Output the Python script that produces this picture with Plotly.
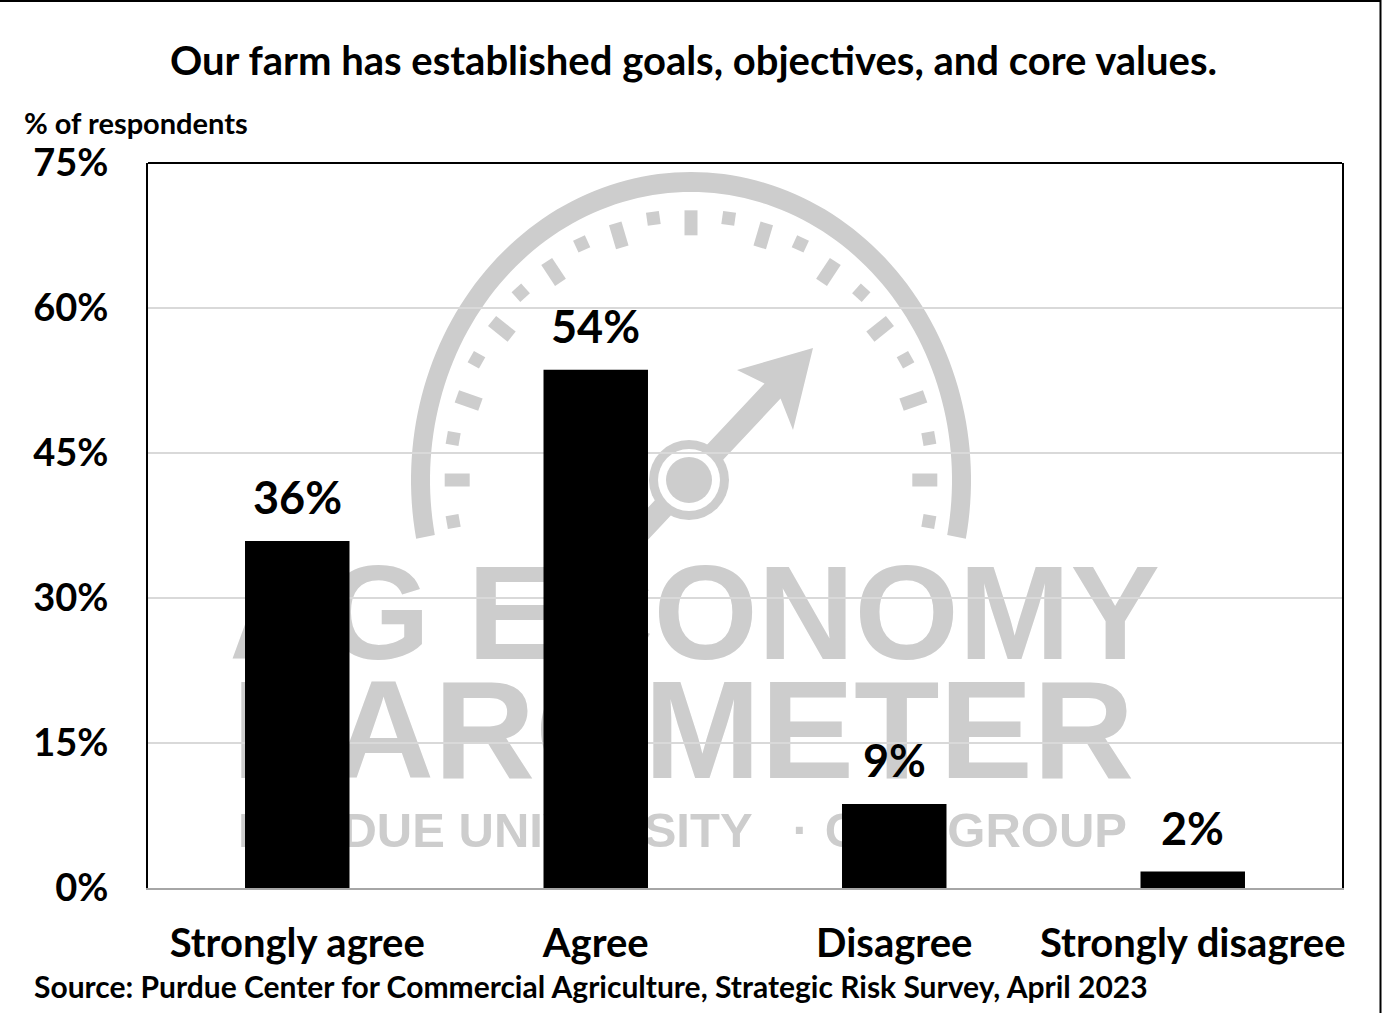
import math
import plotly.graph_objects as go

# ---- survey data -------------------------------------------------------
categories = ["Strongly agree", "Agree", "Disagree", "Strongly disagree"]
share_pct = [35.9, 53.6, 8.7, 1.7]
y_tick_vals = [0, 15, 30, 45, 60, 75]
y_tick_text = ["0%", "15%", "30%", "45%", "60%", "75%"]

title_text = "Our farm has established goals, objectives, and core values."
y_axis_caption = "% of respondents"
source_text = "Source: Purdue Center for Commercial Agriculture, Strategic Risk Survey, April 2023"

# ---- page geometry (pixels) ---------------------------------------------
W, H = 1386, 1013
ML, MR, MT, MB = 148, 44, 163, 125
PW, PH = W - ML - MR, H - MT - MB

FONT = "Lato, 'Open Sans', sans-serif"
LOGO_FONT = "'Liberation Sans', Arial, sans-serif"
LOGO_GREY = "#cdcdcd"


def px(x):
    """page pixel x -> paper x"""
    return (x - ML) / PW


def py(y):
    """page pixel y (top-down) -> paper y"""
    return (H - MB - y) / PH


def poly_path(points):
    return "M " + " L ".join(f"{px(x):.5f},{py(y):.5f}" for x, y in points) + " Z"


shapes = []

# ---- background logo: gauge ------------------------------------------------
gcx, gcy = 691, 480
rx_o, ry_o, rx_i, ry_i = 280, 308, 261, 288
a0, a1 = -11, 191
outer = [(gcx + rx_o * math.cos(math.radians(a)), gcy - ry_o * math.sin(math.radians(a)))
         for a in [a0 + (a1 - a0) * k / 120 for k in range(121)]]
inner = [(gcx + rx_i * math.cos(math.radians(a)), gcy - ry_i * math.sin(math.radians(a)))
         for a in [a1 - (a1 - a0) * k / 120 for k in range(121)]]
shapes.append(dict(type="path", path=poly_path(outer + inner), xref="paper", yref="paper",
                   fillcolor=LOGO_GREY, line=dict(width=0), layer="below"))

# dial ticks, alternating long / short every 9 degrees
for k in range(-1, 22):
    t = math.radians(k * 9)
    long_tick = (k % 2 == 0)
    rr = 0.835 if long_tick else 0.86
    cx = gcx + rr * rx_o * math.cos(t)
    cy = gcy - rr * ry_o * math.sin(t)
    dx, dy = rx_o * math.cos(t), -ry_o * math.sin(t)
    n = math.hypot(dx, dy)
    dx, dy = dx / n, dy / n
    ex, ey = -dy, dx
    hl = 12.5 if long_tick else 6.5
    hw = 6.5
    pts = [(cx + dx * hl + ex * hw, cy + dy * hl + ey * hw),
           (cx + dx * hl - ex * hw, cy + dy * hl - ey * hw),
           (cx - dx * hl - ex * hw, cy - dy * hl - ey * hw),
           (cx - dx * hl + ex * hw, cy - dy * hl + ey * hw)]
    shapes.append(dict(type="path", path=poly_path(pts), xref="paper", yref="paper",
                       fillcolor=LOGO_GREY, line=dict(width=0), layer="below"))

# needle
pvx, pvy = 689, 480
tip = (813, 348)
ux, uy = tip[0] - pvx, tip[1] - pvy
ul = math.hypot(ux, uy)
ux, uy = ux / ul, uy / ul
nx, ny = -uy, ux
hw = 11


def along(s, o):
    return (pvx + ux * s + nx * o, pvy + uy * s + ny * o)


needle = [tip, (793, 430), along(122, hw), along(-75, hw), along(-75, -hw), along(122, -hw), (737, 370)]
shapes.append(dict(type="path", path=poly_path(needle), xref="paper", yref="paper",
                   fillcolor=LOGO_GREY, line=dict(width=0), layer="below"))

# pivot: grey ring, white gap, grey hub
for r, col in [(40, LOGO_GREY), (31, "white"), (23, LOGO_GREY)]:
    shapes.append(dict(type="circle", xref="paper", yref="paper",
                       x0=px(pvx - r), x1=px(pvx + r), y0=py(pvy + r), y1=py(pvy - r),
                       fillcolor=col, line=dict(width=0), layer="below"))

# ---- background logo: lettering ------------------------------------------------
logo_rows = [
    # (text, left, right, cap top, cap bottom, font size, alignment)
    ("AG ECONOMY", 235, 1154, 560, 665, 134, "middle center"),
    ("BAROMETER", 235, 1131, 677, 783, 140, "middle center"),
    ("PURDUE UNIVERSITY   ·", 235, 820, 812, 847, 49, "middle left"),
    ("CME GROUP", 830, 1130, 812, 847, 49, "middle right"),
]
for text, left, right, top, bot, size, pos in logo_rows:
    lift = 0.095 * size
    shapes.append(dict(type="rect", xref="paper", yref="paper",
                       x0=px(left), x1=px(right), y0=py(bot - lift), y1=py(top - lift),
                       line=dict(width=0), fillcolor="rgba(0,0,0,0)", layer="below",
                       label=dict(text=f"<b>{text}</b>", textposition=pos, padding=0,
                                  font=dict(family=LOGO_FONT, size=size, color=LOGO_GREY))))

# ---- frame lines ---------------------------------------------------------
# plot-area top edge
shapes.append(dict(type="line", xref="paper", yref="paper", x0=0, x1=1, y0=1, y1=1,
                   line=dict(color="black", width=2), layer="above"))
# outer page border (top and right)
shapes.append(dict(type="line", xref="paper", yref="paper", x0=px(0), x1=px(1381),
                   y0=py(1), y1=py(1), line=dict(color="black", width=2), layer="above"))
shapes.append(dict(type="line", xref="paper", yref="paper", x0=px(1380.5), x1=px(1380.5),
                   y0=py(0), y1=py(H), line=dict(color="black", width=2), layer="above"))

# ---- bars ----------------------------------------------------------------
fig = go.Figure(go.Bar(x=categories, y=share_pct, marker=dict(color="black", line=dict(width=0)),
                       hoverinfo="skip"))

annotations = []
for cat, v in zip(categories, share_pct):
    annotations.append(dict(x=cat, y=v, xref="x", yref="y", text=f"<b>{round(v)}%</b>",
                            showarrow=False, yanchor="bottom", yshift=15,
                            font=dict(family=FONT, size=45, color="black")))

annotations += [
    dict(x=px(693), y=py(60), xref="paper", yref="paper", text=f"<b>{title_text}</b>",
         showarrow=False, xanchor="center", yanchor="middle",
         font=dict(family=FONT, size=40, color="black")),
    dict(x=px(22), y=py(123), xref="paper", yref="paper", text=f"<b>{y_axis_caption}</b>",
         showarrow=False, xanchor="left", yanchor="middle",
         font=dict(family=FONT, size=29, color="black")),
    dict(x=px(32), y=py(986), xref="paper", yref="paper", text=f"<b>{source_text}</b>",
         showarrow=False, xanchor="left", yanchor="middle",
         font=dict(family=FONT, size=30, color="black")),
]

fig.update_layout(
    width=W, height=H,
    margin=dict(l=ML, r=MR, t=MT, b=MB),
    paper_bgcolor="white", plot_bgcolor="white",
    bargap=0.65,
    showlegend=False,
    shapes=shapes,
    annotations=annotations,
    xaxis=dict(showline=True, linecolor="#a6a6a6", linewidth=2, ticks="", showgrid=False,
               tickfont=dict(family=FONT, size=40, color="black"),
               ticklabelstandoff=19, fixedrange=True,
               tickvals=categories, ticktext=[f"<b>{c}</b>" for c in categories]),
    yaxis=dict(range=[0, 75], tickvals=y_tick_vals, ticktext=[f"<b>{t}</b>" for t in y_tick_text],
               showgrid=True, gridcolor="#d9d9d9", gridwidth=1.5, zeroline=False,
               showline=True, linecolor="black", linewidth=2, mirror=True,
               ticks="", ticklabelstandoff=30, fixedrange=True,
               tickfont=dict(family=FONT, size=38, color="black")),
)

fig.write_html("out.html")
